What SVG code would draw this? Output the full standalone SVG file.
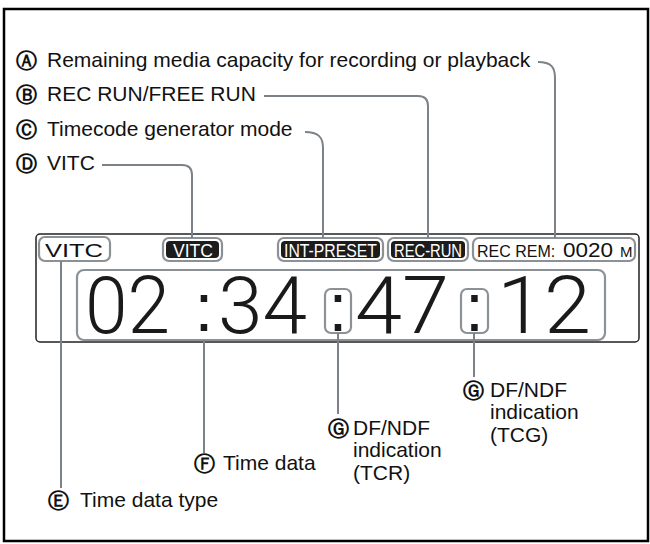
<svg xmlns="http://www.w3.org/2000/svg" width="650" height="544" viewBox="0 0 650 544">
<style>
.lbl{font-family:"Liberation Sans",Arial,sans-serif;font-size:21px;fill:#111}
.cir{font-family:"DejaVu Sans",sans-serif;font-weight:bold;font-size:21px;fill:#111;text-anchor:middle}
.con{fill:none;stroke:#7d8288;stroke-width:2}
.gbox{fill:#fff;stroke:#8c9196;stroke-width:2.2}
.pill{fill:#1c1c1c}
.lcd{font-family:"Liberation Sans",Arial,sans-serif;font-size:19px}
.dig{font-family:Roboto,"Liberation Sans",Arial,sans-serif;font-weight:300;font-size:80px;fill:#1a1a1a}
.col{font-family:"Liberation Sans",Arial,sans-serif;font-size:68px;fill:#1a1a1a;text-anchor:middle}
</style>
<rect x="4" y="9" width="644" height="532" fill="#fff" stroke="#000" stroke-width="2.5"/>

<g id="display">
<rect x="36" y="234" width="603" height="108" rx="4" fill="none" stroke="#222" stroke-width="1.5"/>
<rect class="gbox" x="77" y="270" width="528" height="70" rx="7"/>
<text class="dig" x="85" y="333" textLength="85" lengthAdjust="spacingAndGlyphs">02</text>
<text class="col" x="204" y="331">:</text>
<text class="dig" x="218" y="333" textLength="89" lengthAdjust="spacingAndGlyphs">34</text>
<text class="dig" x="355" y="333" textLength="94" lengthAdjust="spacingAndGlyphs">47</text>
<text class="dig" x="497" y="333" textLength="94" lengthAdjust="spacingAndGlyphs">12</text>
</g>

<g id="node-vitc-type">
<rect class="gbox" x="39" y="237" width="71" height="24" rx="6"/>
<text class="lcd" x="45" y="257" textLength="58" lengthAdjust="spacingAndGlyphs" fill="#111">VITC</text>
</g>
<g id="node-vitc">
<rect class="gbox" x="163" y="238" width="59" height="23" rx="6"/>
<rect class="pill" x="166" y="241" width="53" height="17" rx="4"/>
<text class="lcd" x="173" y="257" textLength="40" lengthAdjust="spacingAndGlyphs" fill="#fff">VITC</text>
</g>
<g id="node-intpreset">
<rect class="gbox" x="278" y="238" width="105" height="23" rx="6"/>
<rect class="pill" x="281" y="241" width="99" height="17" rx="4"/>
<text class="lcd" x="284" y="257" textLength="93" lengthAdjust="spacingAndGlyphs" fill="#fff">INT-PRESET</text>
</g>
<g id="node-recrun">
<rect class="gbox" x="388" y="238" width="80" height="23" rx="6"/>
<rect class="pill" x="391" y="241" width="74" height="17" rx="4"/>
<text class="lcd" x="394" y="257" textLength="68" lengthAdjust="spacingAndGlyphs" fill="#fff">REC-RUN</text>
</g>
<g id="node-recrem">
<rect class="gbox" x="473" y="238" width="162" height="23" rx="6"/>
<text class="lcd" y="257" fill="#111"><tspan x="477" font-size="16">REC REM:</tspan><tspan x="563" font-size="20" textLength="50" lengthAdjust="spacingAndGlyphs">0020</tspan><tspan x="620" font-size="15">M</tspan></text>
</g>
<g id="node-dfndf-tcr">
<rect class="gbox" x="325" y="289" width="26" height="44" rx="6"/>
<text class="col" x="338" y="331">:</text>
</g>
<g id="node-dfndf-tcg">
<rect class="gbox" x="461" y="289" width="27" height="44" rx="6"/>
<text class="col" x="474.5" y="331">:</text>
</g>

<g id="connectors">
<path class="con" d="M538 62 C551 62 555 67 555 78 V238"/>
<path class="con" d="M264 96 H418 Q428 96 428 106 V238"/>
<path class="con" d="M305 132 C318 132 323 137 323 148 V238"/>
<path class="con" d="M102 165 H182 Q192 165 192 175 V238"/>
<path class="con" d="M61 261 V488"/>
<path class="con" d="M204 340 V453"/>
<path class="con" d="M338 333 V414"/>
<path class="con" d="M474 333 V377"/>
</g>

<g id="label-a"><text class="cir" x="26" y="68">Ⓐ</text><text class="lbl" x="47" y="67">Remaining media capacity for recording or playback</text></g>
<g id="label-b"><text class="cir" x="26" y="102">Ⓑ</text><text class="lbl" x="47" y="101">REC RUN/FREE RUN</text></g>
<g id="label-c"><text class="cir" x="26" y="137">Ⓒ</text><text class="lbl" x="47" y="136">Timecode generator mode</text></g>
<g id="label-d"><text class="cir" x="26" y="171">Ⓓ</text><text class="lbl" x="47" y="170">VITC</text></g>
<g id="label-e"><text class="cir" x="58" y="508">Ⓔ</text><text class="lbl" x="80" y="507">Time data type</text></g>
<g id="label-f"><text class="cir" x="204" y="471">Ⓕ</text><text class="lbl" x="223" y="470">Time data</text></g>
<g id="label-g1"><text class="cir" x="338" y="436">Ⓖ</text><text class="lbl" x="353" y="435">DF/NDF</text><text class="lbl" x="353" y="457">indication</text><text class="lbl" x="353" y="480">(TCR)</text></g>
<g id="label-g2"><text class="cir" x="473" y="398">Ⓖ</text><text class="lbl" x="490" y="397">DF/NDF</text><text class="lbl" x="490" y="419">indication</text><text class="lbl" x="490" y="442">(TCG)</text></g>
</svg>
